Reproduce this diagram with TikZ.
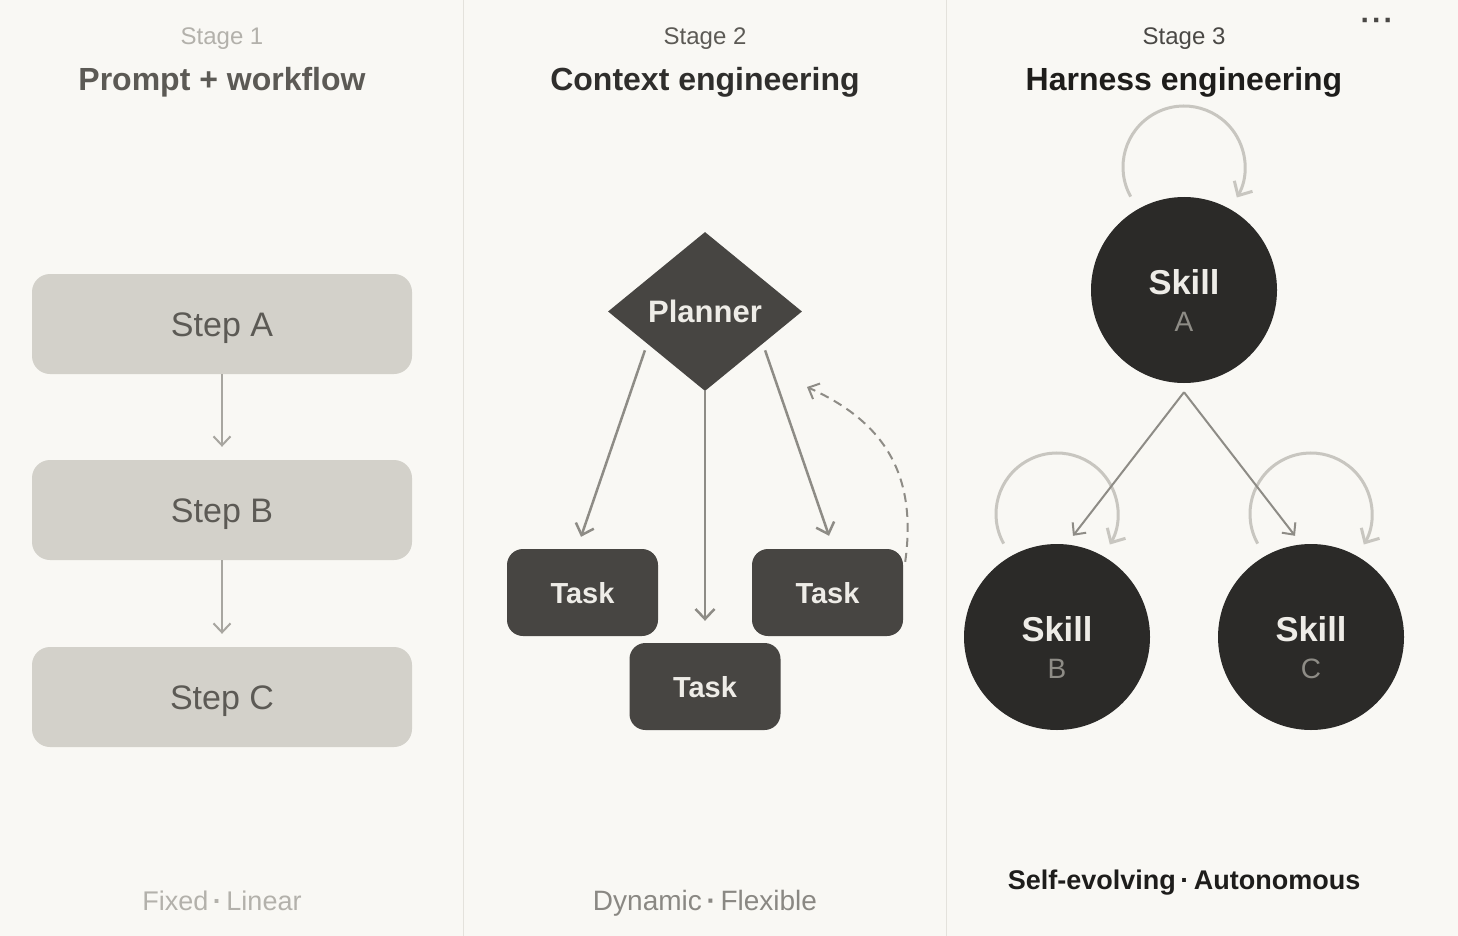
\documentclass[tikz,border=0pt]{standalone}
\usepackage{fontspec}
\setmainfont{Liberation Sans}
\usetikzlibrary{shapes.geometric,arrows.meta,calc}
\definecolor{bgc}{HTML}{F9F8F4}
\definecolor{divc}{HTML}{E4E2DC}
\definecolor{stepfill}{HTML}{D3D1CA}
\definecolor{steptext}{HTML}{5C5A55}
\definecolor{lightlab}{HTML}{B3B1AB}
\definecolor{arrowone}{HTML}{A8A6A0}
\definecolor{midlab}{HTML}{5C5A55}
\definecolor{darktitle}{HTML}{2F2E2C}
\definecolor{dynlab}{HTML}{8A8883}
\definecolor{darkfill}{HTML}{474542}
\definecolor{tasktext}{HTML}{EEECE7}
\definecolor{arrowtwo}{HTML}{8E8C86}
\definecolor{stagethree}{HTML}{4A4845}
\definecolor{blacktitle}{HTML}{1E1D1B}
\definecolor{circfill}{HTML}{2B2A28}
\definecolor{loopc}{HTML}{C8C6C0}
\newcommand\myfs[1]{\fontsize{#1}{#1}\selectfont}
\newcommand\mydot{\,{\bfseries\textperiodcentered}\,}
\tikzset{
  txt/.style={anchor=base,inner sep=0pt},
  stepbox/.style={rounded corners=18pt,fill=stepfill,minimum width=380pt,minimum height=100pt,
    text=steptext,font=\myfs{34},text height=24.5pt,text depth=0pt,inner sep=0pt},
  taskbox/.style={rounded corners=16pt,fill=darkfill,minimum width=151pt,minimum height=87pt,
    text=tasktext,font=\myfs{29}\bfseries,text height=21pt,text depth=0pt,inner sep=0pt},
  planbox/.style={diamond,fill=darkfill,minimum width=194pt,minimum height=159pt,aspect=1.22,
    text=tasktext,font=\myfs{31}\bfseries,text height=22pt,text depth=0pt,inner sep=0pt},
  skillc/.style={circle,fill=circfill,minimum size=186pt,inner sep=0pt},
  arrone/.style={draw=arrowone,line width=2pt,-{Straight Barb[length=9pt,width=17pt]}},
  arrtwo/.style={draw=arrowtwo,line width=2.5pt,-{Straight Barb[length=10pt,width=19pt]}},
  arrthree/.style={draw=arrowtwo,line width=2pt,-{Straight Barb[length=9pt,width=17pt]}},
  loopline/.style={draw=loopc,line width=3pt,-{Straight Barb[length=11pt,width=21pt]}},
}
\begin{document}
\begin{tikzpicture}[x=1pt,y=-1pt]
\fill[bgc] (0,0) rectangle (1458,936);
\useasboundingbox (0,0) rectangle (1458,936);
% dividers
\draw[divc,line width=1.5pt] (463.5,0) -- (463.5,936);
\draw[divc,line width=1.5pt] (946.5,0) -- (946.5,936);

% ---- Stage 1
\node[txt,text=lightlab,font=\myfs{24}] (s1) at (222,45) {Stage 1};
\node[txt,text=steptext,font=\myfs{32}\bfseries] (t1) at (222,91) {Prompt + workflow};
\node[stepbox] (sa) at (222,324) {Step A};
\node[stepbox] (sb) at (222,510) {Step B};
\node[stepbox] (sc) at (222,697) {Step C};
\draw[arrone,shorten >=13pt] (sa) -- (sb);
\draw[arrone,shorten >=13pt] (sb) -- (sc);
\node[txt,text=lightlab,font=\myfs{27}] (f1) at (222,910) {Fixed\mydot Linear};

% ---- Stage 2
\node[txt,text=midlab,font=\myfs{24}] (s2) at (705,45) {Stage 2};
\node[txt,text=darktitle,font=\myfs{32}\bfseries] (t2) at (705,91) {Context engineering};
\node[planbox] (pl) at (705,311.5) {Planner};
\node[taskbox] (tl) at (582.5,592.5) {Task};
\node[taskbox] (tr) at (827.5,592.5) {Task};
\node[taskbox] (tm) at (705,686.5) {Task};
\draw[arrtwo] ($(pl.south west)+(-11.5,-1)$) -- ($(tl.north)+(-1.5,-12)$);
\draw[arrtwo] ($(pl.south east)+(11.5,-1)$) -- ($(tr.north)+(1.5,-13)$);
\draw[arrtwo,shorten >=22pt] (pl.south) -- (tm.north);
\coordinate (fb) at (807,387);
\draw[draw=arrowtwo,line width=2pt,dash pattern=on 9pt off 6pt,-{Straight Barb[length=9pt,width=17pt]}]
  ($(tr.north east)+(2,13)$) .. controls (918,470) and (880,420) .. (fb);
\node[txt,text=dynlab,font=\myfs{28}] (f2) at (705,910) {Dynamic\mydot Flexible};

% ---- Stage 3
\node[txt,text=stagethree,font=\myfs{30}\bfseries] (dots) at (1377,31) {\textperiodcentered\kern1.5pt\textperiodcentered\kern1.5pt\textperiodcentered};
\node[txt,text=stagethree,font=\myfs{24}] (s3) at (1184,45) {Stage 3};
\node[txt,text=blacktitle,font=\myfs{32}\bfseries] (t3) at (1184,91) {Harness engineering};
\node[skillc] (skA) at (1184,290) {};
\node[skillc] (skB) at (1057,637) {};
\node[skillc] (skC) at (1311,637) {};
\foreach \n/\l in {skA/A,skB/B,skC/C}{
  \node[txt,text=tasktext,font=\myfs{34.5}\bfseries] (\n-name) at ($(\n)+(0,4)$) {Skill};
  \node[txt,text=arrowtwo,font=\myfs{28}] (\n-let) at ($(\n)+(0,41)$) {\l};
  \draw[loopline] ($(\n)+(0,-123)+(209:61pt)$) arc[start angle=209,end angle=-30,radius=61pt];
}
\coordinate (apex) at ($(skA.south)+(0,9)$);
\draw[arrthree] (apex) -- ($(skB.north)+(16,-8)$);
\draw[arrthree] (apex) -- ($(skC.north)+(-16,-8)$);
\node[txt,text=blacktitle,font=\myfs{27}\bfseries] (f3) at (1184,889) {Self-evolving\mydot Autonomous};
\end{tikzpicture}
\end{document}
